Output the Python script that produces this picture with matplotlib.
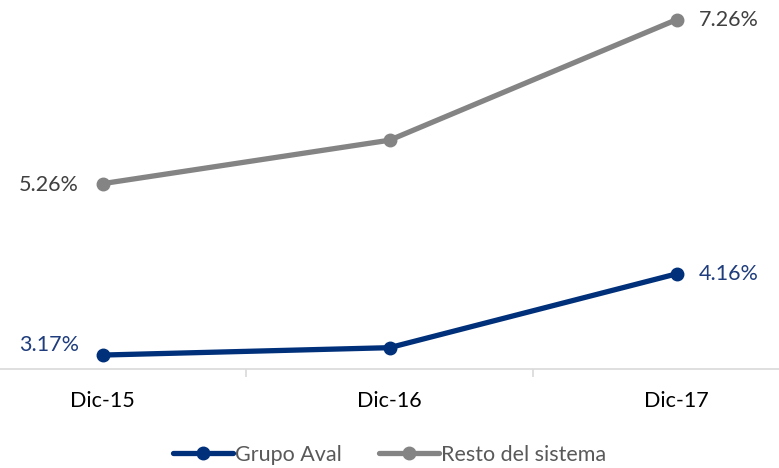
import matplotlib.pyplot as plt

categories = ['Dic-15', 'Dic-16', 'Dic-17']
grupo_aval = [3.17, 3.26, 4.16]
resto_sistema = [5.26, 5.79, 7.26]

plt.rcParams['font.family'] = ['Lato', 'DejaVu Sans']

fig = plt.figure(figsize=(7.79, 4.68), dpi=100)
ax = fig.add_axes([-41 / 779, 99 / 468, 861 / 779, 369 / 468])

x = range(len(categories))
ax.plot(x, grupo_aval, color='#00307A', lw=3.8, marker='o', ms=9,
        label='Grupo Aval', solid_capstyle='round')
ax.plot(x, resto_sistema, color='#848484', lw=3.8, marker='o', ms=9,
        label='Resto del sistema', solid_capstyle='round')

ax.set_xlim(-0.5, 2.5)
ax.set_ylim(3.0, 7.5)

# data labels (only first and last points)
lbl = dict(fontsize=15.5, va='center')
ax.annotate(f'{grupo_aval[0]:.2f}%', (0, grupo_aval[0]), xytext=(-17, 7),
            textcoords='offset points', ha='right', color='#1F3D7C', **lbl)
ax.annotate(f'{grupo_aval[2]:.2f}%', (2, grupo_aval[2]), xytext=(16, 0),
            textcoords='offset points', ha='left', color='#1F3D7C', **lbl)
ax.annotate(f'{resto_sistema[0]:.2f}%', (0, resto_sistema[0]), xytext=(-17, -1),
            textcoords='offset points', ha='right', color='#404040', **lbl)
ax.annotate(f'{resto_sistema[2]:.2f}%', (2, resto_sistema[2]), xytext=(16, 0),
            textcoords='offset points', ha='left', color='#404040', **lbl)

for s in ['top', 'right', 'left']:
    ax.spines[s].set_visible(False)
ax.spines['bottom'].set_color('#D9D9D9')
ax.spines['bottom'].set_linewidth(1.2)
ax.set_yticks([])
ax.set_xticks(list(x))
ax.set_xticklabels(categories, fontsize=15.5, color='#000000')
ax.tick_params(axis='x', length=0, pad=16)
ax.set_xticks([0.5, 1.5], minor=True)
ax.tick_params(axis='x', which='minor', length=6, color='#D9D9D9', width=1.2)

fig.legend(loc='center', bbox_to_anchor=(0.5, 0.028), ncol=2, frameon=False,
           fontsize=15.5, handlelength=2.8, columnspacing=1.7, handletextpad=0.1,
           labelcolor='#595959')

fig.savefig('out.png', dpi=100)
